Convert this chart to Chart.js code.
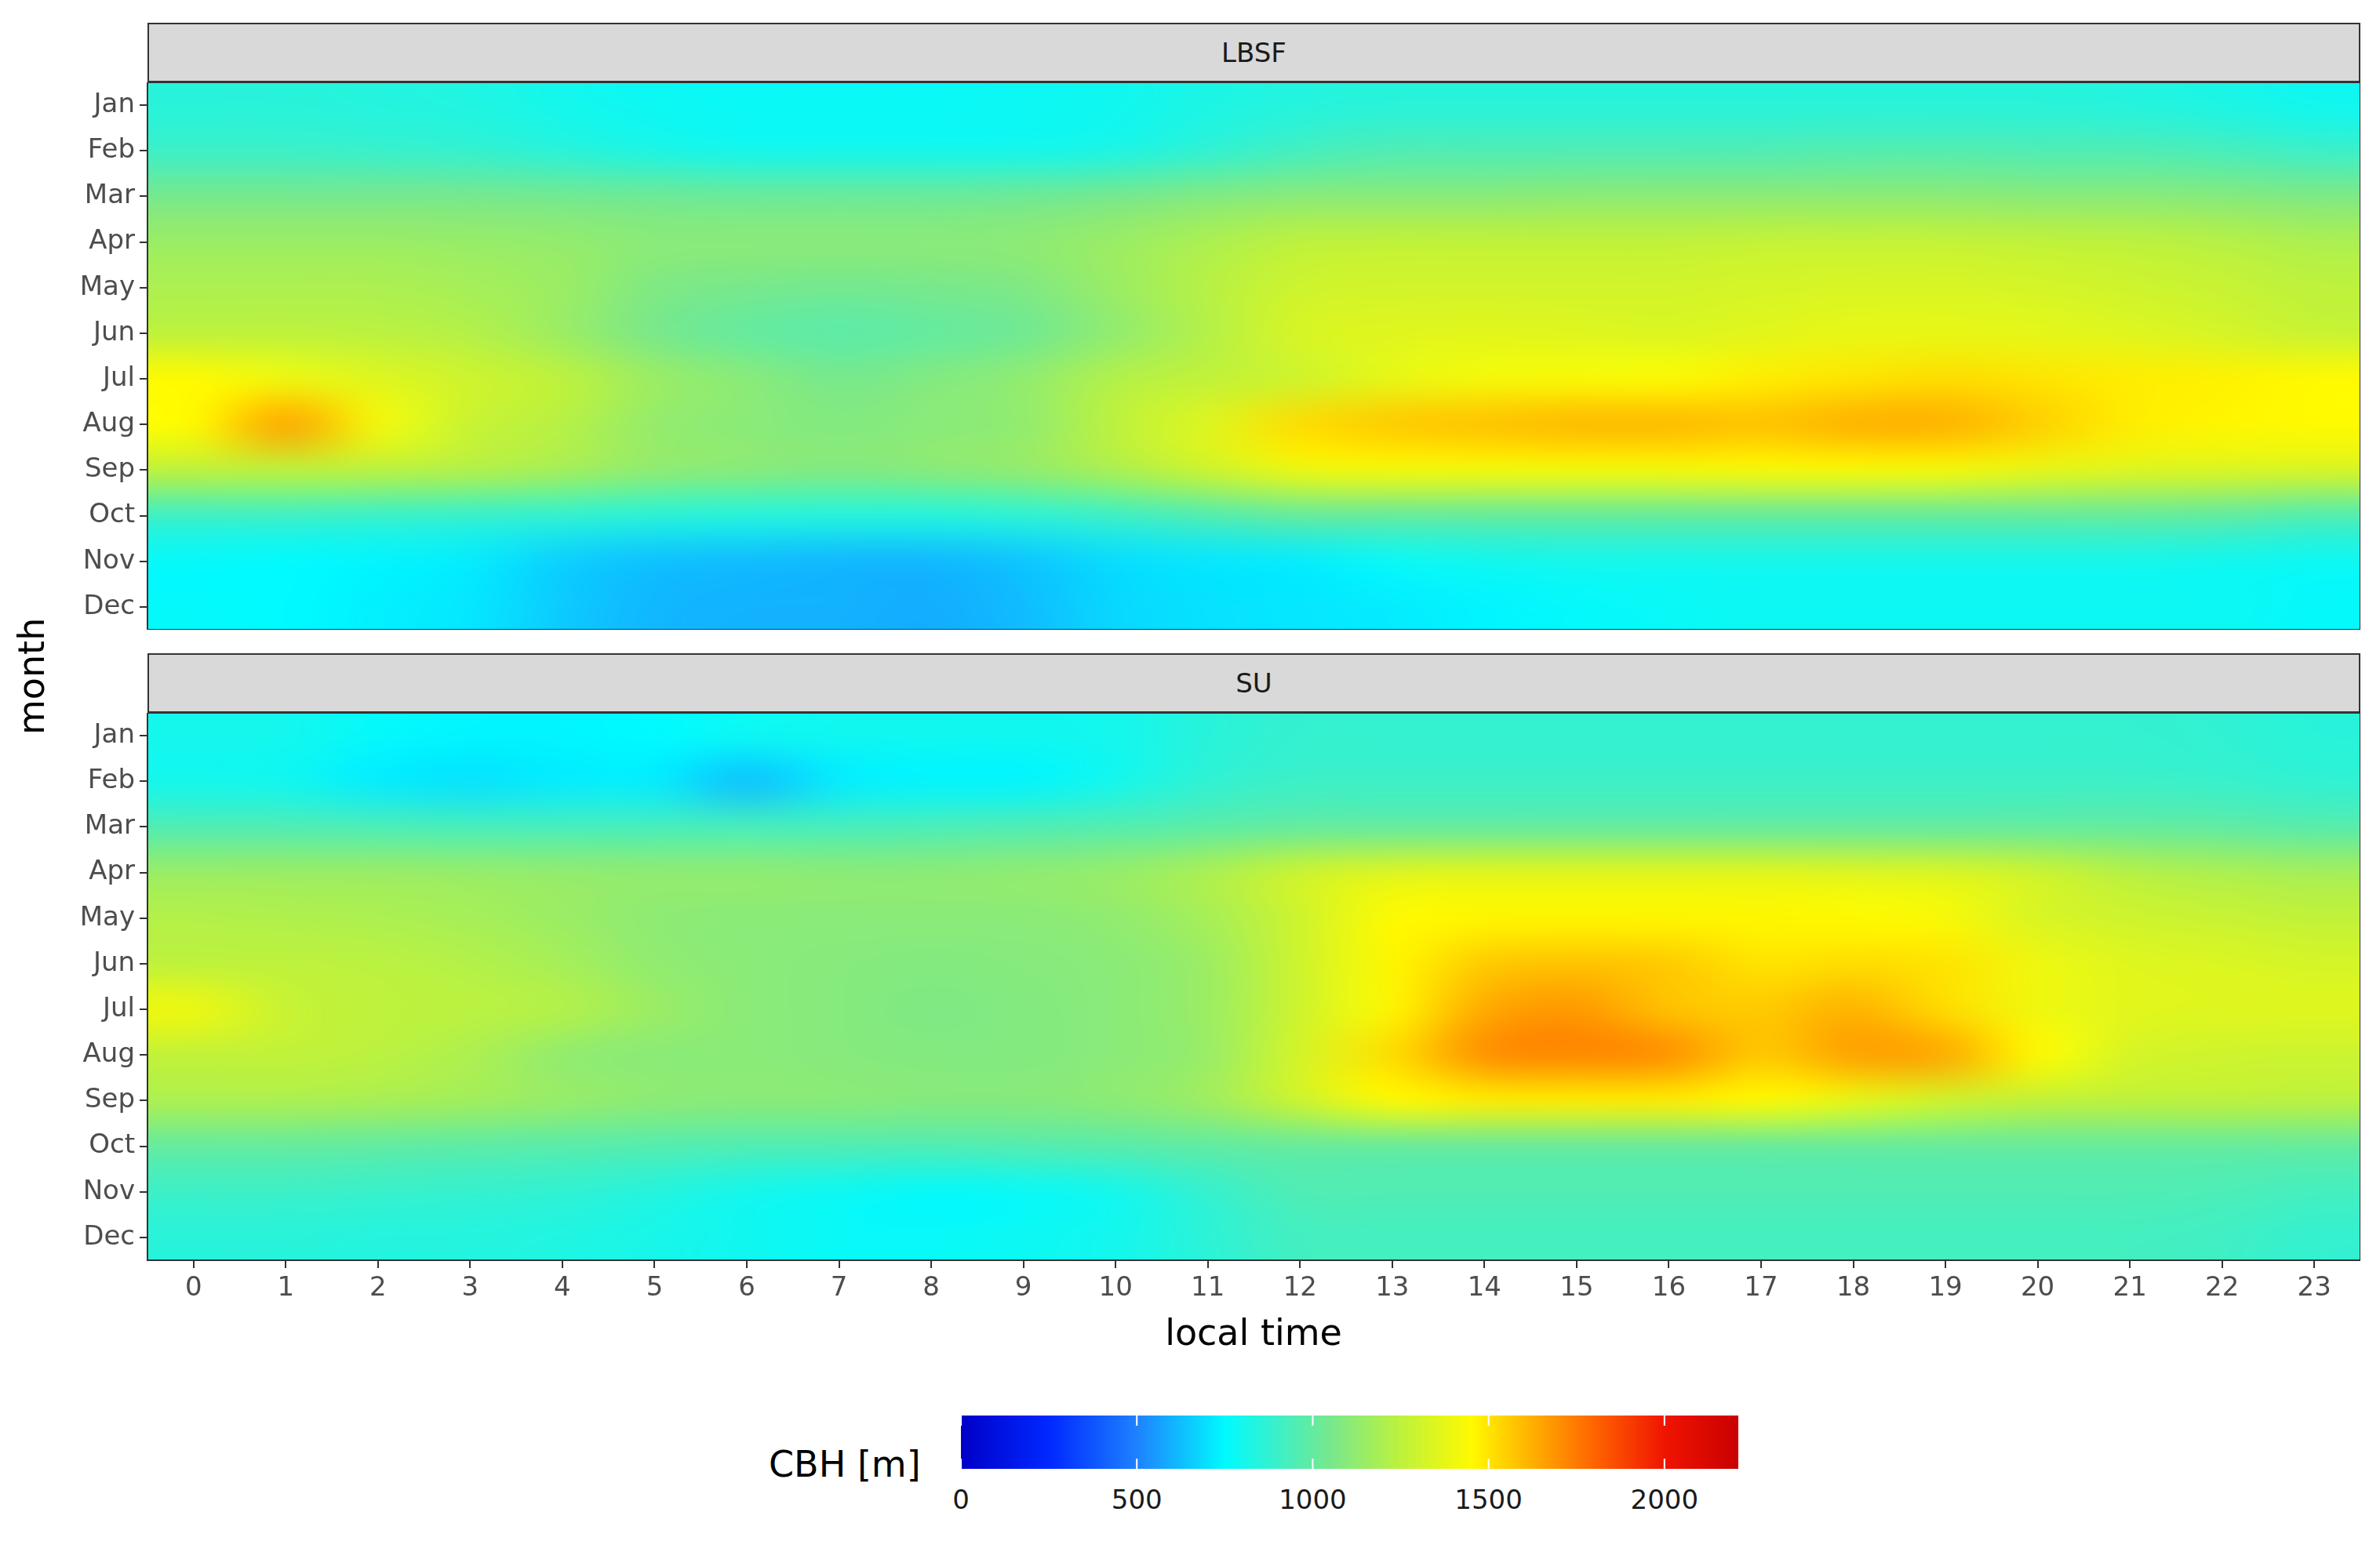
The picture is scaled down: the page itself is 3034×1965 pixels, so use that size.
<!DOCTYPE html>
<html>
<head>
<meta charset="utf-8">
<script src="https://cdn.jsdelivr.net/npm/chart.js@4"></script>
<style>
body{margin:0;background:#fff;width:3034px;height:1965px;position:relative;font-family:"DejaVu Sans",sans-serif;overflow:hidden}
.strip{position:absolute;left:188px;width:2821px;height:76px;background:#d9d9d9;border:2px solid #333;box-sizing:border-box;text-align:center;line-height:72px;font-size:34px;color:#1a1a1a}
canvas{position:absolute}
.lbl{position:absolute;color:#000}
</style>
</head>
<body>
<div class="strip" style="top:29px">LBSF</div>
<div class="strip" style="top:833px">SU</div>
<canvas id="topChart" style="left:0;top:105px;width:3009px;height:698px"></canvas>
<canvas id="botChart" style="left:0;top:909px;width:3009px;height:790px"></canvas>
<div class="lbl" style="left:-20px;top:850px;font-size:46px;transform:rotate(-90deg);transform-origin:center;width:120px;text-align:center">month</div>
<div class="lbl" style="left:1598px;top:1672px;width:0;font-size:46px;white-space:nowrap"><span style="position:absolute;transform:translateX(-50%)">local time</span></div>
<div class="lbl" style="left:980px;top:1840px;font-size:46px">CBH [m]</div>
<canvas id="bar" style="left:1225px;top:1805px;width:991px;height:68px"></canvas>
<div id="barLabels"></div>
<script>
const months = ['Jan','Feb','Mar','Apr','May','Jun','Jul','Aug','Sep','Oct','Nov','Dec'];
const hours = [0,1,2,3,4,5,6,7,8,9,10,11,12,13,14,15,16,17,18,19,20,21,22,23];
const barTicks = [0,500,1000,1500,2000];
const cbhMax = 2210;

// CBH [m], rows = months, columns = local hour 0..23
const lbsf = [
  [850,850,840,830,800,780,770,770,770,780,790,820,840,850,850,850,850,850,850,850,850,840,820,790],
  [900,900,890,880,850,820,800,800,800,800,820,870,920,950,950,950,950,950,960,960,950,950,930,900],
  [1050,1050,1050,1050,1040,1030,1020,1020,1020,1030,1050,1080,1100,1100,1100,1110,1110,1110,1110,1110,1100,1100,1090,1070],
  [1150,1150,1150,1140,1130,1100,1100,1100,1100,1110,1150,1200,1250,1260,1260,1260,1260,1270,1270,1270,1260,1250,1230,1200],
  [1200,1200,1200,1180,1150,1070,1050,1040,1050,1070,1150,1230,1300,1310,1310,1310,1310,1320,1330,1330,1320,1300,1280,1250],
  [1250,1250,1240,1220,1150,1050,1000,980,1000,1030,1120,1220,1330,1350,1360,1350,1340,1360,1380,1380,1370,1350,1320,1280],
  [1450,1400,1350,1300,1250,1150,1100,1050,1080,1120,1220,1260,1300,1380,1420,1430,1440,1480,1500,1520,1500,1480,1470,1450],
  [1450,1650,1420,1280,1230,1130,1100,1080,1100,1120,1250,1350,1520,1560,1580,1600,1600,1580,1620,1620,1550,1480,1460,1450],
  [1250,1250,1240,1220,1180,1120,1100,1080,1100,1130,1200,1300,1400,1420,1420,1420,1420,1430,1430,1420,1380,1350,1340,1330],
  [900,900,890,880,870,850,840,840,840,860,900,950,1000,1000,1000,1000,1000,1000,1000,1000,1000,1000,990,950],
  [760,750,740,720,660,630,620,610,610,640,690,710,720,770,790,800,800,800,800,800,800,800,790,780],
  [760,750,730,710,650,610,600,600,590,620,680,700,710,720,740,760,770,780,780,780,780,780,780,760]
];
const su = [
  [800,800,760,740,740,750,780,790,790,790,800,850,880,880,880,880,880,880,880,880,880,880,870,850],
  [800,790,720,700,720,720,630,720,740,740,800,870,900,900,900,900,900,900,900,900,900,900,890,870],
  [950,950,940,930,930,930,930,930,940,950,960,980,1000,1000,1000,1000,1000,1000,1000,1000,1000,1000,990,970],
  [1150,1150,1150,1140,1130,1120,1120,1110,1110,1120,1140,1200,1300,1350,1360,1360,1360,1360,1350,1340,1300,1230,1200,1180],
  [1220,1210,1200,1180,1150,1110,1100,1100,1100,1100,1120,1180,1300,1450,1460,1460,1460,1460,1450,1430,1330,1300,1280,1260],
  [1250,1250,1240,1220,1180,1120,1100,1090,1080,1090,1100,1150,1300,1460,1560,1580,1560,1500,1520,1500,1400,1350,1340,1320],
  [1400,1280,1250,1240,1220,1150,1100,1090,1070,1080,1100,1150,1300,1460,1640,1680,1580,1560,1620,1520,1400,1360,1350,1350],
  [1260,1260,1240,1200,1120,1100,1100,1090,1080,1080,1100,1140,1320,1520,1700,1720,1700,1560,1660,1640,1450,1320,1300,1290],
  [1200,1200,1190,1170,1140,1110,1100,1100,1090,1090,1110,1160,1300,1450,1480,1480,1480,1450,1380,1300,1260,1250,1250,1240],
  [1000,1000,990,980,970,960,950,950,950,960,970,990,1000,1000,1000,1000,1000,1000,1000,1000,1000,1000,1000,1000],
  [900,900,890,880,870,840,800,780,760,770,800,880,950,950,950,950,950,950,950,950,950,950,940,920],
  [850,850,840,840,830,810,790,770,770,780,800,860,920,920,920,920,920,920,920,920,920,920,910,880]
];

const stops = [
  [0,[0,0,200]],[250,[0,40,255]],[500,[30,130,255]],[750,[0,250,255]],[900,[60,240,200]],
  [1050,[120,232,140]],[1250,[190,242,60]],[1450,[255,250,0]],[1600,[255,185,0]],
  [1800,[255,100,0]],[2000,[240,20,0]],[2210,[200,0,0]]
];
function jet(v){
  if(v<=stops[0][0]) return stops[0][1];
  for(let i=1;i<stops.length;i++){
    if(v<=stops[i][0]){
      const a=stops[i-1], b=stops[i], t=(v-a[0])/(b[0]-a[0]);
      return a[1].map((c,k)=>Math.round(c+(b[1][k]-c)*t));
    }
  }
  return stops[stops.length-1][1];
}

const heatPlugin = {
  id:'heat',
  beforeDatasetsDraw(chart){
    const vals = chart.options.plugins.heat.values;
    const off = document.createElement('canvas');
    off.width = hours.length; off.height = months.length;
    const octx = off.getContext('2d');
    const img = octx.createImageData(off.width, off.height);
    vals.forEach((row,r)=>row.forEach((v,c)=>{
      const col = jet(v), i=(r*off.width+c)*4;
      img.data[i]=col[0]; img.data[i+1]=col[1]; img.data[i+2]=col[2]; img.data[i+3]=255;
    }));
    octx.putImageData(img,0,0);
    const xs=chart.scales.x, ys=chart.scales.y;
    const x0=xs.getPixelForValue(-0.5), x1=xs.getPixelForValue(23.5);
    const half=(ys.getPixelForValue(1)-ys.getPixelForValue(0))/2;
    const y0=ys.getPixelForValue(0)-half, y1=ys.getPixelForValue(11)+half;
    const ctx=chart.ctx;
    ctx.save();
    ctx.beginPath(); ctx.rect(chart.chartArea.left,chart.chartArea.top,chart.chartArea.width,chart.chartArea.height); ctx.clip();
    ctx.imageSmoothingEnabled=true; ctx.imageSmoothingQuality='high';
    ctx.drawImage(off,x0,y0,x1-x0,y1-y0);
    ctx.restore();
    ctx.save();
    ctx.strokeStyle='#333'; ctx.lineWidth=2;
    const a=chart.chartArea;
    ctx.strokeRect(a.left,a.top,a.width,a.height);
    ctx.restore();
  }
};

function makeChart(id, values, showX){
  return new Chart(document.getElementById(id),{
    type:'scatter',
    data:{datasets:[{data:[]}]},
    plugins:[heatPlugin],
    options:{
      responsive:false, maintainAspectRatio:false, animation:false,
      layout:{padding:0},
      plugins:{legend:{display:false},tooltip:{enabled:false},heat:{values}},
      scales:{
        x:{type:'linear',min:-0.5,max:23.5,display:showX,
           afterBuildTicks(s){s.ticks=hours.map(h=>({value:h}));},
           afterFit(s){if(showX){s.height=92;} s.paddingLeft=0; s.paddingRight=0;},
           border:{display:false},
           grid:{drawOnChartArea:false,drawTicks:true,tickLength:10,color:'#333',lineWidth:2},
           ticks:{font:{size:34,family:'DejaVu Sans'},color:'#4d4d4d',maxRotation:0,autoSkip:false,padding:6}},
        y:{type:'category',labels:months,offset:true,
           afterFit(s){s.width=188; s.paddingTop=0; s.paddingBottom=0;},
           border:{display:false},
           grid:{drawOnChartArea:false,drawTicks:true,tickLength:10,color:'#333',lineWidth:2,offset:false},
           ticks:{font:{size:34,family:'DejaVu Sans'},color:'#4d4d4d',padding:6}}
      }
    }
  });
}
function sizeCanvas(id){const c=document.getElementById(id);c.width=parseInt(c.style.width);c.height=parseInt(c.style.height);}
sizeCanvas('topChart'); sizeCanvas('botChart');
makeChart('topChart', lbsf, false);
makeChart('botChart', su, true);

// colour bar
const bar=document.getElementById('bar'); bar.width=991; bar.height=68;
const bctx=bar.getContext('2d');
for(let x=0;x<bar.width;x++){
  const c=jet(x/bar.width*cbhMax);
  bctx.fillStyle=`rgb(${c[0]},${c[1]},${c[2]})`;
  bctx.fillRect(x,0,1,bar.height);
}
const labels=document.getElementById('barLabels');
barTicks.forEach(t=>{
  const px=t/cbhMax*bar.width;
  bctx.fillStyle='#fff';
  bctx.fillRect(px-1,0,2,13); bctx.fillRect(px-1,bar.height-13,2,13);
  const d=document.createElement('div');
  d.className='lbl';
  d.style.cssText=`left:${1225+px}px;top:1892px;font-size:34px;color:#1a1a1a;transform:translateX(-50%)`;
  d.textContent=t;
  labels.appendChild(d);
});
</script>
</body>
</html>
